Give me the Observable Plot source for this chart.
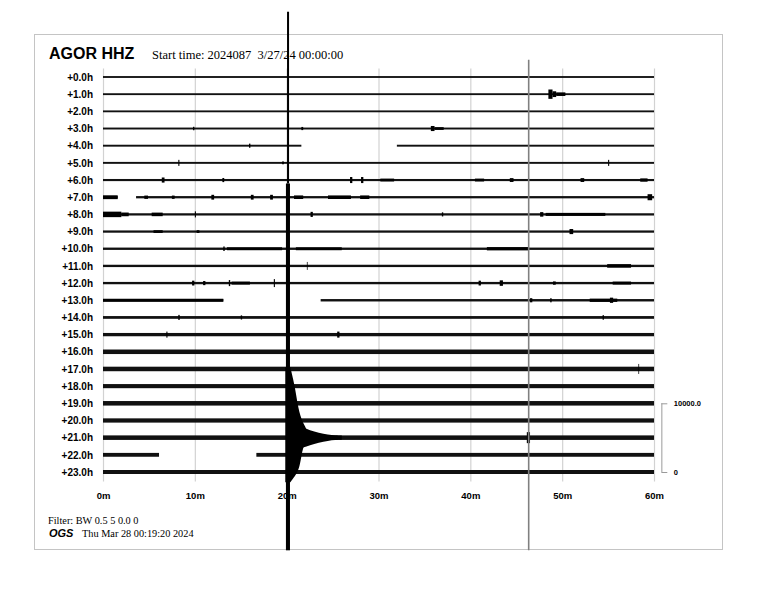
<!DOCTYPE html>
<html>
<head>
<meta charset="utf-8">
<script src="https://cdn.jsdelivr.net/npm/d3@7"></script>
<script src="https://cdn.jsdelivr.net/npm/@observablehq/plot@0.6"></script>
<style>
  html, body { margin: 0; padding: 0; background: #fff; }
  #chart { position: relative; width: 768px; height: 593px; }
</style>
</head>
<body>
<div id="chart"></div>
<script>
// ---------- data ----------
const station = "AGOR HHZ";
const startTime = "Start time: 2024087\u00a0\u00a03/27/24 00:00:00";
const filterText = "Filter: BW 0.5 5 0.0 0";
const agency = "OGS";
const madeAt = "Thu Mar 28 00:19:20 2024";

const hourLabels = ["+0.0h","+1.0h","+2.0h","+3.0h","+4.0h","+5.0h","+6.0h","+7.0h",
  "+8.0h","+9.0h","+10.0h","+11.0h","+12.0h","+13.0h","+14.0h","+15.0h",
  "+16.0h","+17.0h","+18.0h","+19.0h","+20.0h","+21.0h","+22.0h","+23.0h"];
const minuteTicks = [0, 10, 20, 30, 40, 50, 60];
const minuteLabels = ["0m","10m","20m","30m","40m","50m","60m"];

// counts per row spacing (10000 counts span 4 rows on the scale bar)
const countsPerRow = 2500;
const scaleValues = [10000.0, 0];
const scaleLabels = ["10000.0", "0"];

// background noise half-amplitude of each hourly trace (counts)
const noiseAmp = [135,135,135,140,140,140,155,165,165,165,170,170,170,175,200,240,
  330,330,300,330,310,330,280,290];

// data gaps (row, minute from, minute to)
const gaps = [
  {row: 4, from: 21.6, to: 32.0},
  {row: 7, from: 1.6, to: 3.6},
  {row: 13, from: 13.1, to: 23.7},
  {row: 22, from: 6.1, to: 16.7}
];

// small local events: row, onset minute, half-amplitude (counts), duration (min)
const events = [
  {r:1,t:48.5,a:680,d:0.45},{r:1,t:48.95,a:420,d:0.4},{r:1,t:49.35,a:260,d:1.0},
  {r:3,t:9.8,a:250,d:0.15},{r:3,t:21.6,a:230,d:0.2},{r:3,t:35.7,a:370,d:0.4},{r:3,t:36.1,a:200,d:1.0},
  {r:4,t:15.9,a:300,d:0.15},
  {r:5,t:8.2,a:440,d:0.12},{r:5,t:19.5,a:200,d:0.2},{r:5,t:55.0,a:440,d:0.12},
  {r:6,t:6.4,a:370,d:0.3},{r:6,t:13.0,a:300,d:0.2},{r:6,t:26.9,a:440,d:0.25},{r:6,t:28.1,a:440,d:0.25},
  {r:6,t:30.2,a:210,d:1.5},{r:6,t:40.5,a:210,d:1.0},{r:6,t:44.3,a:280,d:0.4},{r:6,t:52.0,a:280,d:0.4},{r:6,t:58.5,a:240,d:0.8},
  {r:7,t:0,a:280,d:1.6},{r:7,t:4.5,a:240,d:0.4},{r:7,t:7.5,a:240,d:0.3},{r:7,t:11.8,a:350,d:0.3},
  {r:7,t:16.1,a:350,d:0.3},{r:7,t:18.2,a:350,d:0.3},{r:7,t:20.8,a:260,d:1.0},{r:7,t:24.5,a:260,d:2.5},
  {r:7,t:28.0,a:260,d:1.0},{r:7,t:59.3,a:440,d:0.5},
  {r:8,t:0,a:400,d:2.0},{r:8,t:2.0,a:270,d:0.8},{r:8,t:5.3,a:260,d:1.2},{r:8,t:10.0,a:440,d:0.12},
  {r:8,t:22.6,a:370,d:0.25},{r:8,t:36.9,a:300,d:0.15},{r:8,t:47.6,a:330,d:0.35},{r:8,t:48.2,a:220,d:6.5},
  {r:9,t:5.5,a:200,d:1.0},{r:9,t:10.2,a:200,d:0.3},{r:9,t:50.8,a:370,d:0.4},
  {r:10,t:13.1,a:330,d:0.15},{r:10,t:13.5,a:215,d:6.0},{r:10,t:21.0,a:215,d:5.0},{r:10,t:41.8,a:240,d:4.5},
  {r:11,t:22.2,a:580,d:0.08},{r:11,t:54.9,a:260,d:2.6},
  {r:12,t:9.7,a:350,d:0.25},{r:12,t:10.9,a:300,d:0.25},{r:12,t:13.7,a:440,d:0.15},{r:12,t:14.0,a:220,d:2.0},
  {r:12,t:18.6,a:580,d:0.12},{r:12,t:40.9,a:350,d:0.25},{r:12,t:43.2,a:400,d:0.35},{r:12,t:49.0,a:240,d:0.3},{r:12,t:55.5,a:220,d:2.0},
  {r:13,t:0,a:220,d:13.1},{r:13,t:46.5,a:300,d:0.25},{r:13,t:48.7,a:300,d:0.15},{r:13,t:53.0,a:240,d:3.0},{r:13,t:55.2,a:380,d:0.35},
  {r:14,t:8.2,a:370,d:0.15},{r:14,t:15.0,a:300,d:0.15},{r:14,t:54.4,a:330,d:0.15},
  {r:15,t:6.9,a:440,d:0.12},{r:15,t:25.5,a:440,d:0.25},
  {r:17,t:58.3,a:730,d:0.08},
  {r:21,t:46.15,a:800,d:0.35}
];

// large earthquake on the +21.0h line (counts relative to that line, up = positive)
const quakeRow = 21;
const quakeColumn = [
  {t0: 20.04, t1: 20.26, hi: 62000, lo: 37000},
  {t0: 19.92, t1: 20.36, hi: 37000, lo: -16400}
];
const quakeBlob = [ // counts offset, right edge (minute); left edge 19.85
  {c: 10250, right: 20.4},
  {c: 7500, right: 20.9},
  {c: 5000, right: 21.15},
  {c: 2500, right: 21.6},
  {c: 1250, right: 22.2},
  {c: 0, right: 22.4},
  {c: -1250, right: 21.8},
  {c: -2750, right: 21.6},
  {c: -4250, right: 21.4},
  {c: -5250, right: 21.1},
  {c: -6500, right: 20.4}
];
const quakeCoda = [ // minute, half-amplitude (counts)
  {t: 21.0, a: 1700},
  {t: 21.8, a: 1460},
  {t: 22.5, a: 1100},
  {t: 23.5, a: 700},
  {t: 24.5, a: 450},
  {t: 25.3, a: 340},
  {t: 26.0, a: 300}
];
// second large spike (grey long trace) on the +21.0h line
const spikeLines = [{row: 21, t: 46.3, hi: 55000, lo: -16400}];

// ---------- derived tables ----------
const segments = [];
noiseAmp.forEach((a, row) => {
  let pieces = [[0, 60]];
  gaps.filter(g => g.row === row).forEach(g => {
    pieces = pieces.flatMap(([s, e]) => {
      const out = [];
      if (g.from > s) out.push([s, Math.min(g.from, e)]);
      if (g.to < e) out.push([Math.max(g.to, s), e]);
      return out;
    });
  });
  pieces.forEach(([s, e]) => segments.push({row, from: s, to: e, a}));
});

// row position of a count offset (positive counts plot upward)
const yv = (row, c) => row - c / countsPerRow;

const FONT_SANS = "'Liberation Sans', Arial, Helvetica, sans-serif";
const FONT_SERIF = "'Liberation Serif', 'Times New Roman', Times, serif";

const plot = Plot.plot({
  width: 768,
  height: 593,
  marginLeft: 103,
  marginRight: 114,
  marginTop: 77,
  marginBottom: 121,
  x: {domain: [0, 60]},
  y: {domain: [0, 23], reverse: true},
  style: {fontFamily: FONT_SANS, background: "transparent", overflow: "visible"},
  marks: [
    // vertical minute grid
    Plot.ruleX(minuteTicks, {x: d => d, y1: -0.5, y2: 23.55, stroke: "#d2d2d2", strokeWidth: 1.2}),
    // x axis labels
    Plot.axisX({ticks: minuteTicks, tickSize: 0, tickPadding: 20, tickFormat: d => minuteLabels[minuteTicks.indexOf(d)],
      fontSize: 9.5, fontWeight: "bold", label: null}),
    // y axis labels
    Plot.axisY({ticks: hourLabels.map((_, i) => i), tickSize: 0, tickPadding: 10.5, tickFormat: d => hourLabels[d],
      fontSize: 10, fontWeight: "bold", label: null}),
    // background noise traces
    Plot.rect(segments, {x1: "from", x2: "to", y1: d => yv(d.row, -d.a), y2: d => yv(d.row, d.a), fill: "#111"}),
    // small events
    Plot.rect(events, {x1: "t", x2: d => d.t + d.d, y1: d => yv(d.r, -d.a), y2: d => yv(d.r, d.a), fill: "#000"}),
    // grey long spike
    Plot.ruleX(spikeLines, {x: "t", y1: d => yv(d.row, d.hi), y2: d => yv(d.row, d.lo), stroke: "#808080", strokeWidth: 1.6}),
    // earthquake coda
    Plot.areaY(quakeCoda, {x: "t", y1: d => yv(quakeRow, -d.a), y2: d => yv(quakeRow, d.a), fill: "#000", curve: "basis"}),
    // earthquake blob
    Plot.areaX(quakeBlob, {y: d => yv(quakeRow, d.c), x1: 19.85, x2: "right", fill: "#000", curve: "basis"}),
    // earthquake column
    Plot.rect(quakeColumn, {x1: "t0", x2: "t1", y1: d => yv(quakeRow, d.lo), y2: d => yv(quakeRow, d.hi), fill: "#000"}),
    // amplitude scale bar
    Plot.ruleX([scaleValues], {x: 60.8, y1: d => yv(23, d[0]), y2: d => yv(23, d[1]), stroke: "#9a9a9a", strokeWidth: 1}),
    Plot.ruleY(scaleValues, {y: d => yv(23, d), x1: 60.8, x2: 61.45, stroke: "#9a9a9a", strokeWidth: 1}),
    Plot.text(scaleValues, {y: d => yv(23, d), x: 61.45, dx: 6, text: (d, i) => scaleLabels[i], textAnchor: "start",
      fontSize: 7.5, fontWeight: "bold", fill: "#000"})
  ]
});

document.getElementById("chart").appendChild(plot);

// decorations: outer frame, title and footer text
const svg = d3.select(plot);
svg.insert("rect", ":first-child")
  .attr("x", 34.5).attr("y", 34.5).attr("width", 688).attr("height", 515)
  .attr("fill", "none").attr("stroke", "#c4c4c4").attr("stroke-width", 1);
const addText = (x, y, s, family, size, weight, style) =>
  svg.append("text").attr("x", x).attr("y", y).text(s)
    .attr("text-anchor", "start").attr("font-family", family).attr("font-size", size)
    .attr("font-weight", weight || "normal").attr("font-style", style || "normal").attr("fill", "#000");
addText(49, 59, station, FONT_SANS, 16, "bold");
addText(152, 59, startTime, FONT_SERIF, 12.5);
addText(48, 524, filterText, FONT_SERIF, 10.3);
addText(49, 537, agency, FONT_SANS, 11, "bold", "italic");
addText(82, 537, madeAt, FONT_SERIF, 10.3);
</script>
</body>
</html>
